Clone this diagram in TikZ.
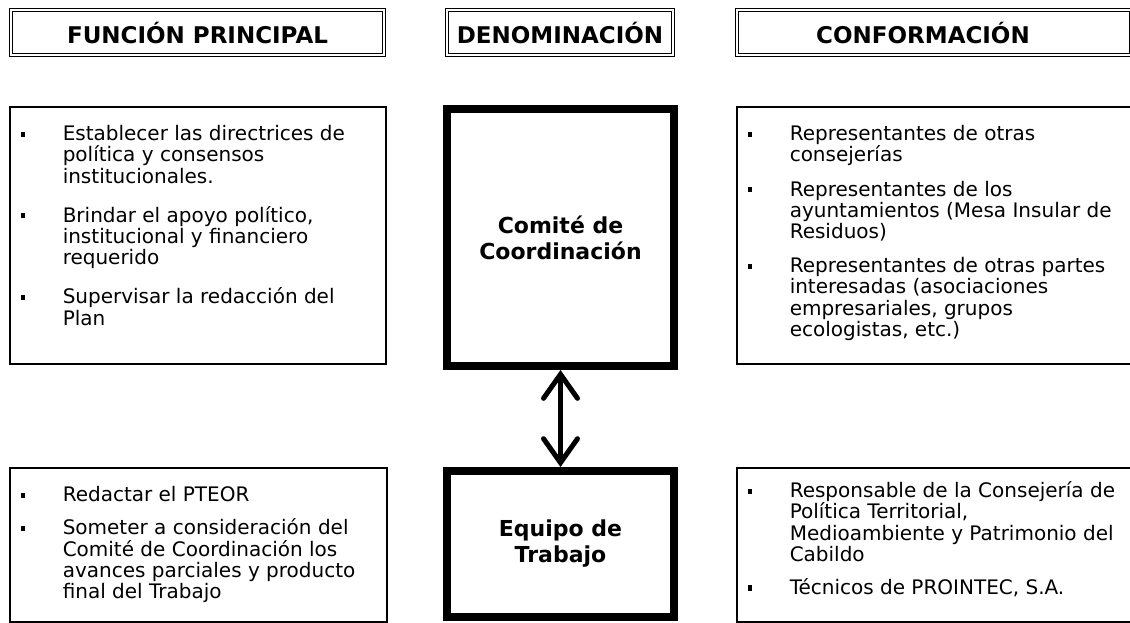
\documentclass[tikz,border=0pt]{standalone}
\usepackage{fontspec}
\setmainfont{DejaVu Sans}
\usetikzlibrary{arrows.meta}

\newlength\huecopunto
% bullet mark hanging left of the text
\newcommand\marca{\llap{\makebox[21pt][l]{\rule[2pt]{2.2pt}{2.6pt}}}}
% first entry of a box, and the entries after it
\newcommand\primero[1][17pt]{\noindent\rule{0pt}{#1}\marca\ignorespaces}
\newcommand\punto{\par\vspace{\huecopunto}\noindent\marca}
% text of a box: [gap between entries] width, height, entries
\newcommand\lista[4][5pt]{%
  \begin{minipage}[t][#3][t]{#2}
    \fontsize{10}{10.6}\selectfont
    \setlength\huecopunto{#1}%
    \parindent=0pt \parskip=0pt
    \leftskip=26.5pt \rightskip=0pt plus 1fil
    #4
  \end{minipage}}

\begin{document}
\begin{tikzpicture}[x=0.5pt,y=-0.5pt,
  cabecera/.style={draw,double,line width=0.55pt,double distance=1pt,
    minimum height=22.4pt,inner sep=0pt,font=\fontsize{11.5}{13}\selectfont\bfseries},
  cuadro/.style={draw,line width=0.75pt,inner sep=0pt,anchor=north west},
  organo/.style={draw,line width=4pt,inner sep=0pt,minimum width=113.5pt,
    align=center,font=\fontsize{11}{13}\selectfont\bfseries},
  flecha/.style={line width=2.5pt,
    arrows={Straight Barb[length=12pt,width=17pt,line cap=round]-Straight Barb[length=12pt,width=17pt,line cap=round]}}]
  \useasboundingbox (0,0) rectangle (1130,622);

  % headers
  \node[cabecera,minimum width=186.4pt] (hfuncion) at (197.5,32.5) {FUNCIÓN PRINCIPAL};
  \node[cabecera,minimum width=112.9pt] (hdenom) at (560,32.5) {DENOMINACIÓN};
  \node[cabecera,minimum width=196.9pt] (hconf) at (934,32.5) {\hspace*{-11pt}CONFORMACIÓN};

  % the two bodies
  \node[organo,minimum height=128.5pt] (comite) at (560.5,237.5) {Comité de\\Coordinación};
  \node[organo,minimum height=73pt] (equipo) at (560.5,544) {Equipo de\\Trabajo};
  \draw[flecha] (comite) -- (equipo);

  % functions
  \node[cuadro] (fcomite) at (9,106) {\lista[9pt]{188pt}{128.5pt}{%
    \primero Establecer las directrices de\\política y consensos\\institucionales.
    \punto Brindar el apoyo político,\\institucional y financiero\\requerido
    \punto Supervisar la redacción del\\Plan}};
  \node[cuadro] (fequipo) at (9,467) {\lista[6pt]{188.5pt}{77pt}{%
    \primero Redactar el PTEOR
    \punto Someter a consideración del\\Comité de Coordinación los\\avances parciales y producto\\final del Trabajo}};

  % members
  \node[cuadro] (ccomite) at (736,106) {\lista[6.5pt]{198.5pt}{128.5pt}{%
    \primero Representantes de otras\\consejerías
    \punto Representantes de los\\ayuntamientos (Mesa Insular de\\Residuos)
    \punto Representantes de otras partes\\interesadas (asociaciones\\empresariales, grupos\\ecologistas, etc.)}};
  \node[cuadro] (cequipo) at (736,467) {\lista[6pt]{198.5pt}{77pt}{%
    \primero[15pt] Responsable de la Consejería de\\Política Territorial,\\Medioambiente y Patrimonio del\\Cabildo
    \punto Técnicos de PROINTEC, S.A.}};
\end{tikzpicture}
\end{document}
